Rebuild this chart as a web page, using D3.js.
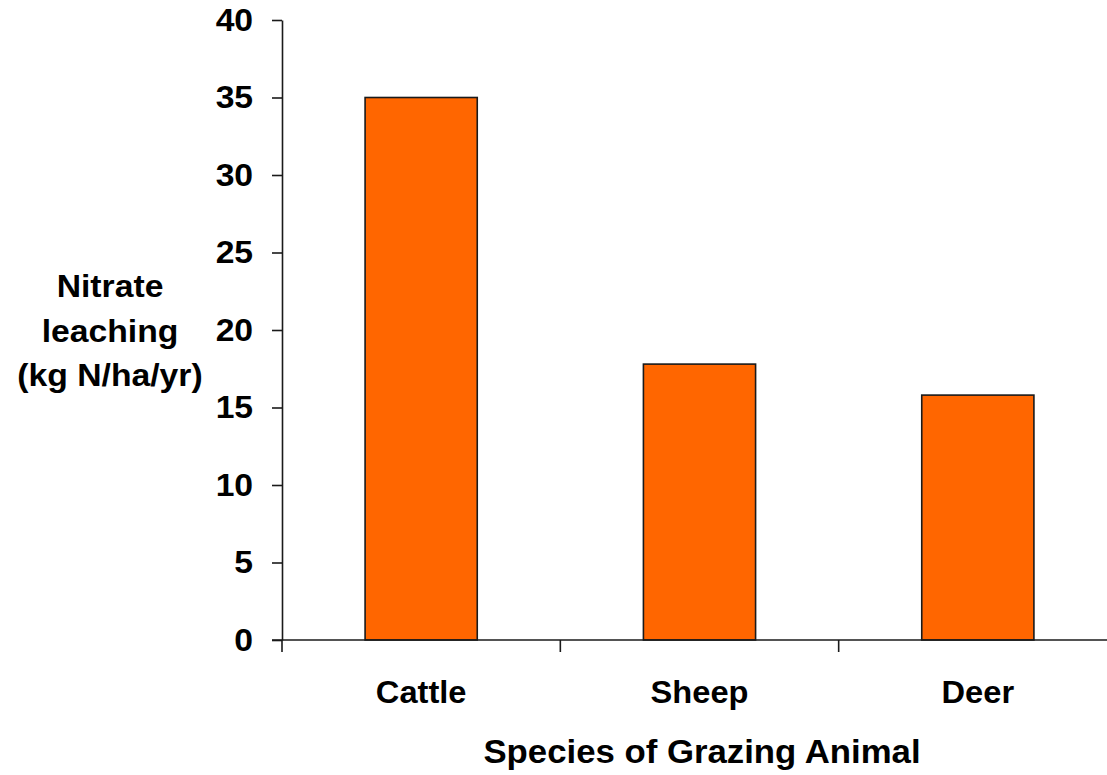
<!DOCTYPE html>
<html>
<head>
<meta charset="utf-8">
<script src="https://cdn.jsdelivr.net/npm/d3@7"></script>
<style>
  html, body { margin: 0; padding: 0; background: #fff; }
  svg { display: block; }
  text { font-family: "Liberation Sans", Arial, sans-serif; font-weight: bold; fill: #000; }
</style>
</head>
<body>
<svg id="chart" width="1107" height="775"></svg>
<script>
// Nitrate leaching by grazing species
const categories = ["Cattle", "Sheep", "Deer"];
const leaching = [35, 17.8, 15.8];
const yTicks = [0, 5, 10, 15, 20, 25, 30, 35, 40];
const yLabelLines = ["Nitrate", "leaching", "(kg N/ha/yr)"];
const xTitle = "Species of Grazing Animal";

const svg = d3.select("#chart");
const plot = { left: 282, right: 1117, top: 20, bottom: 640 };
const stretch = 1.07; // slightly widened lettering

const x = d3.scaleBand().domain(categories).range([plot.left, plot.right]).padding(0);
const y = d3.scaleLinear().domain([0, 40]).range([plot.bottom, plot.top]);
const barW = x.bandwidth() * 0.403;

// bars
svg.append("g").selectAll("rect")
  .data(categories)
  .join("rect")
  .attr("x", (d) => x(d) + (x.bandwidth() - barW) / 2)
  .attr("y", (d, i) => y(leaching[i]))
  .attr("width", barW)
  .attr("height", (d, i) => y(0) - y(leaching[i]))
  .attr("fill", "#ff6600")
  .attr("stroke", "#1a1a1a")
  .attr("stroke-width", 1.6);

// y axis
const yAxis = svg.append("g")
  .attr("transform", `translate(${plot.left},0)`)
  .call(d3.axisLeft(y).tickValues(yTicks).tickSize(10).tickPadding(17).tickSizeOuter(0));
yAxis.select(".domain").attr("stroke", "#1a1a1a").attr("stroke-width", 1.6);
yAxis.selectAll(".tick line").attr("stroke", "#1a1a1a").attr("stroke-width", 1.6);
yAxis.selectAll(".tick text")
  .attr("font-size", 31.5)
  .attr("font-family", "'Liberation Sans', Arial, sans-serif")
  .attr("font-weight", "bold")
  .attr("fill", "#000")
  .attr("transform", `scale(${stretch},1)`);

// x axis: baseline with ticks at band boundaries
const xg = svg.append("g");
xg.append("line")
  .attr("x1", plot.left - 10).attr("x2", plot.right)
  .attr("y1", plot.bottom).attr("y2", plot.bottom)
  .attr("stroke", "#1a1a1a").attr("stroke-width", 1.6);
const boundaries = categories.map((d) => x(d)).concat([x(categories[categories.length - 1]) + x.bandwidth()]);
xg.selectAll("line.tick")
  .data(boundaries)
  .join("line")
  .attr("class", "tick")
  .attr("x1", (d) => d).attr("x2", (d) => d)
  .attr("y1", plot.bottom).attr("y2", plot.bottom + 12)
  .attr("stroke", "#1a1a1a").attr("stroke-width", 1.6);
xg.selectAll("text")
  .data(categories)
  .join("text")
  .attr("transform", (d) => `translate(${x(d) + x.bandwidth() / 2},703) scale(${stretch},1)`)
  .attr("text-anchor", "middle")
  .attr("font-size", 30.5)
  .text((d) => d);

// axis titles
svg.append("text")
  .attr("transform", `translate(702,763) scale(${stretch},1)`)
  .attr("text-anchor", "middle")
  .attr("font-size", 32.5)
  .text(xTitle);

svg.append("g").selectAll("text")
  .data(yLabelLines)
  .join("text")
  .attr("transform", (d, i) => `translate(110,${297 + i * 44.5}) scale(${stretch},1)`)
  .attr("text-anchor", "middle")
  .attr("font-size", 31.5)
  .text((d) => d);
</script>
</body>
</html>
